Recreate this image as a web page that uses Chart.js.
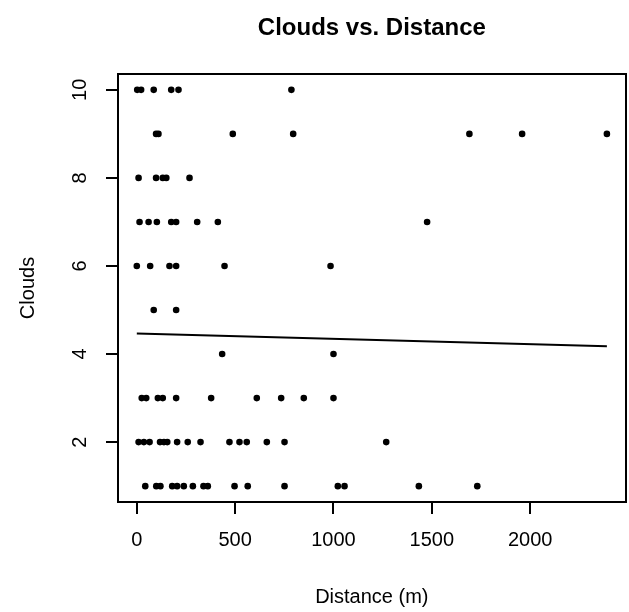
<!DOCTYPE html>
<html>
<head>
<meta charset="utf-8">
<title>Clouds vs. Distance</title>
<script src="https://cdn.jsdelivr.net/npm/chart.js@4/dist/chart.umd.min.js"></script>
<style>
  body { margin: 0; background: #ffffff; }
  #wrap { width: 629px; height: 612px; }
</style>
</head>
<body>
<div id="wrap"><canvas id="cloudsChart" width="629" height="612"></canvas></div>
<script>
const distance = [
    2, 22, 86, 175, 212, 786,                 // clouds 10
    98, 110, 488, 795, 1691, 1959, 2390,      // clouds 9
    9, 98, 132, 150, 268,                     // clouds 8
    14, 60, 102, 175, 200, 307, 412, 1476,    // clouds 7
    0, 68, 166, 200, 446, 985,                // clouds 6
    86, 200,                                  // clouds 5
    434, 1000,                                // clouds 4
    25, 48, 107, 132, 200, 378, 610, 734, 849, 1000,                  // clouds 3
    9, 36, 65, 118, 138, 155, 205, 259, 324, 471, 522, 559, 661, 751, 1268,   // clouds 2
    43, 99, 120, 180, 205, 239, 285, 339, 361, 497, 564, 751, 1022, 1056, 1434, 1731 // clouds 1
];
const clouds = [
    10, 10, 10, 10, 10, 10,
    9, 9, 9, 9, 9, 9, 9,
    8, 8, 8, 8, 8,
    7, 7, 7, 7, 7, 7, 7, 7,
    6, 6, 6, 6, 6, 6,
    5, 5,
    4, 4,
    3, 3, 3, 3, 3, 3, 3, 3, 3, 3,
    2, 2, 2, 2, 2, 2, 2, 2, 2, 2, 2, 2, 2, 2, 2,
    1, 1, 1, 1, 1, 1, 1, 1, 1, 1, 1, 1, 1, 1, 1, 1
];

// Fitted line (lm(Clouds ~ Distance))
const fitIntercept = 4.464;
const fitSlope = -0.000121;

// Tick labels
const xTicks = [0, 500, 1000, 1500, 2000];
const yTicks = [2, 4, 6, 8, 10];

const FONT = "'Liberation Sans', Arial, Helvetica, sans-serif";

// R style axis limits: data range extended by 4% on each side
function paddedRange(values) {
    const lo = Math.min(...values);
    const hi = Math.max(...values);
    const pad = (hi - lo) * 0.04;
    return [lo - pad, hi + pad];
}

const [xMin, xMax] = paddedRange(distance);
const [yMin, yMax] = paddedRange(clouds);

const points = distance.map((d, i) => ({ x: d, y: clouds[i] }));
const dMin = Math.min(...distance);
const dMax = Math.max(...distance);
const fitLine = [
    { x: dMin, y: fitIntercept + fitSlope * dMin },
    { x: dMax, y: fitIntercept + fitSlope * dMax }
];

// Draws the R-like box, axes, tick labels and titles
const baseGraphics = {
    id: "baseGraphics",
    afterDraw(chart) {
        const ctx = chart.ctx;
        const area = chart.chartArea;
        const xs = chart.scales.x;
        const ys = chart.scales.y;

        const L = Math.round(area.left), R = Math.round(area.right);
        const T = Math.round(area.top), B = Math.round(area.bottom);

        ctx.save();
        ctx.strokeStyle = "#000";
        ctx.fillStyle = "#000";
        ctx.lineWidth = 2;
        ctx.lineCap = "square";

        // box
        ctx.strokeRect(L, T, R - L, B - T);

        // x axis ticks
        ctx.lineCap = "butt";
        ctx.beginPath();
        xTicks.forEach(v => {
            const px = Math.round(xs.getPixelForValue(v));
            ctx.moveTo(px, B);
            ctx.lineTo(px, B + 12);
        });
        ctx.stroke();

        ctx.font = "20px " + FONT;
        ctx.textAlign = "center";
        ctx.textBaseline = "middle";
        xTicks.forEach(v => {
            ctx.fillText(String(v), xs.getPixelForValue(v), area.bottom + 38);
        });

        // y axis ticks
        ctx.beginPath();
        yTicks.forEach(v => {
            const py = Math.round(ys.getPixelForValue(v));
            ctx.moveTo(L, py);
            ctx.lineTo(L - 12, py);
        });
        ctx.stroke();

        yTicks.forEach(v => {
            ctx.save();
            ctx.translate(area.left - 38, ys.getPixelForValue(v));
            ctx.rotate(-Math.PI / 2);
            ctx.fillText(String(v), 0, 0);
            ctx.restore();
        });

        // axis titles
        ctx.fillText("Distance (m)", (area.left + area.right) / 2, area.bottom + 95);
        ctx.save();
        ctx.translate(area.left - 90, (area.top + area.bottom) / 2);
        ctx.rotate(-Math.PI / 2);
        ctx.fillText("Clouds", 0, 0);
        ctx.restore();

        // main title
        ctx.font = "bold 24px " + FONT;
        ctx.fillText("Clouds vs. Distance", (area.left + area.right) / 2, 28);

        ctx.restore();
    }
};

const ctx = document.getElementById("cloudsChart").getContext("2d");

new Chart(ctx, {
    type: "scatter",
    data: {
        datasets: [
            {
                label: "Clouds",
                data: points,
                backgroundColor: "#000",
                borderWidth: 0,
                pointRadius: 3.3,
                pointHoverRadius: 3.3
            },
            {
                type: "line",
                label: "Fit",
                data: fitLine,
                borderColor: "#000",
                borderWidth: 2,
                pointRadius: 0,
                fill: false
            }
        ]
    },
    options: {
        responsive: false,
        animation: false,
        layout: {
            padding: { left: 118, right: 3, top: 74, bottom: 110 }
        },
        plugins: {
            legend: { display: false },
            tooltip: { enabled: false }
        },
        scales: {
            x: { type: "linear", min: xMin, max: xMax, display: false },
            y: { type: "linear", min: yMin, max: yMax, display: false }
        }
    },
    plugins: [baseGraphics]
});
</script>
</body>
</html>
